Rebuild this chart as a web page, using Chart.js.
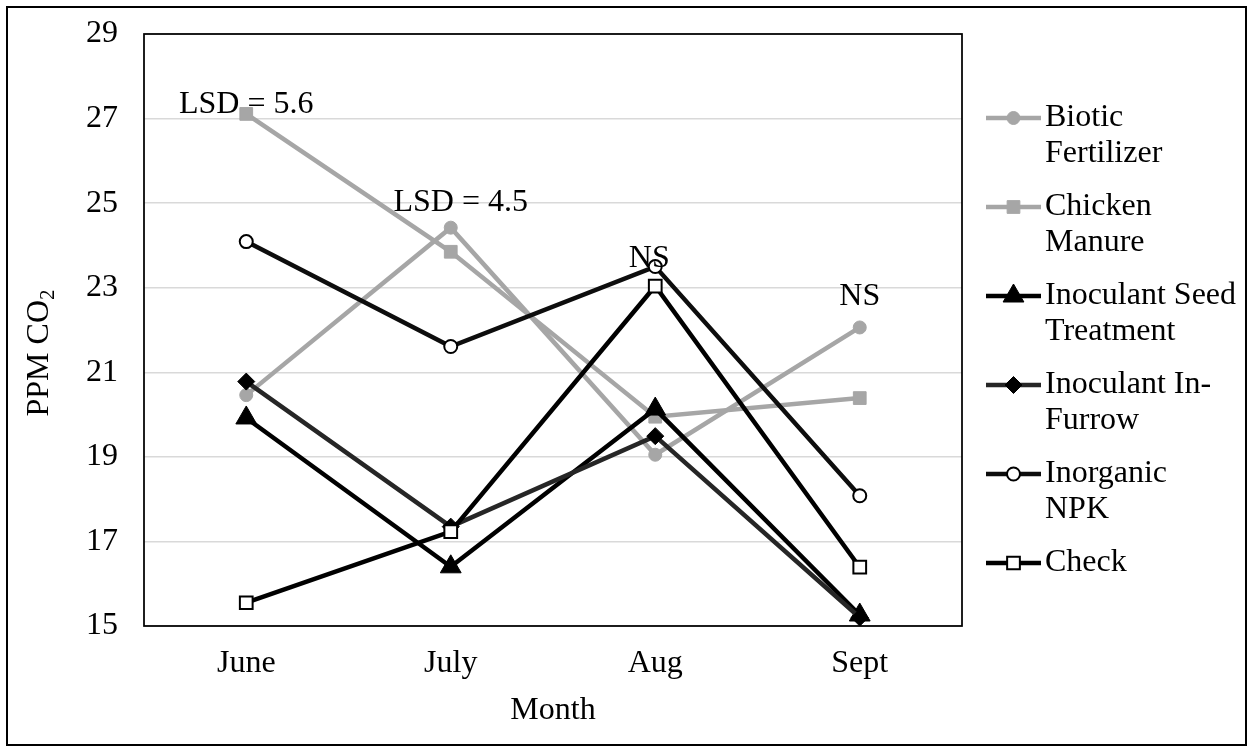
<!DOCTYPE html>
<html><head><meta charset="utf-8">
<script src="https://cdn.jsdelivr.net/npm/chart.js@4/dist/chart.umd.min.js"></script>
<style>html,body{margin:0;padding:0;background:#fff;}#wrap{width:1253px;height:751px;position:relative;}</style>
</head><body><div id="wrap"><canvas id="c" width="1253" height="751"></canvas></div>
<script>
const months = ['June', 'July', 'Aug', 'Sept'];
const seriesNames = [['Biotic', 'Fertilizer'], ['Chicken', 'Manure'], ['Inoculant Seed', 'Treatment'], ['Inoculant In-', 'Furrow'], ['Inorganic', 'NPK'], ['Check']];
const bioticFertilizer = [20.46, 24.42, 19.05, 22.06];
const chickenManure = [27.11, 23.85, 19.95, 20.39];
const inoculantSeedTreatment = [19.92, 16.40, 20.13, 15.26];
const inoculantInFurrow = [20.78, 17.35, 19.49, 15.20];
const inorganicNPK = [24.09, 21.61, 23.50, 18.08];
const checkSeries = [15.55, 17.23, 23.04, 16.39];
const yMin = 15, yMax = 29, yStep = 2;
const annotTexts = ['LSD = 5.6', 'LSD = 4.5', 'NS', 'NS'];
const annotMonths = ['June', 'July', 'Aug', 'Sept'];
const annotValues = [27.13, 24.81, 23.5, 22.59];
const annotShift = [0, 10, -6, 0];

const FONT = "'Liberation Serif', 'Times New Roman', serif";
const FS = 32;
const GREY = '#A6A6A6';

const styles = [
  {color: GREY, bg: GREY, style: 'circle', r: 6.5, bw: 1},
  {color: GREY, bg: GREY, style: 'rect', r: 9, bw: 1},
  {color: '#000000', bg: '#000000', style: 'triangle', r: 12, bw: 1},
  {color: '#262626', bg: '#000000', style: 'rectRot', r: 8.5, bw: 1},
  {color: '#0d0d0d', bg: '#ffffff', style: 'circle', r: 6.5, bw: 2},
  {color: '#000000', bg: '#ffffff', style: 'rect', r: 9, bw: 2}
];
const seriesData = [bioticFertilizer, chickenManure, inoculantSeedTreatment, inoculantInFurrow, inorganicNPK, checkSeries];

const datasets = seriesData.map((d, i) => ({
  label: seriesNames[i].join(' '),
  data: d,
  borderColor: styles[i].color,
  backgroundColor: styles[i].bg,
  pointBackgroundColor: styles[i].bg,
  pointBorderColor: styles[i].bg === '#ffffff' ? '#000' : styles[i].bg,
  pointBorderWidth: styles[i].bw,
  pointStyle: styles[i].style,
  pointRadius: styles[i].r,
  pointHoverRadius: styles[i].r,
  borderWidth: 4.5,
  tension: 0,
  clip: false,
  order: -i
}));

function drawMarker(ctx, s, x, y) {
  ctx.save();
  ctx.fillStyle = s.bg;
  ctx.strokeStyle = s.bg === '#ffffff' ? '#000' : s.bg;
  ctx.lineWidth = s.bw;
  ctx.beginPath();
  const r = s.r;
  if (s.style === 'circle') {
    ctx.arc(x, y, r, 0, Math.PI * 2);
  } else if (s.style === 'rect') {
    const h = Math.SQRT1_2 * r;
    ctx.rect(x - h, y - h, 2 * h, 2 * h);
  } else if (s.style === 'triangle') {
    ctx.moveTo(x, y - r);
    ctx.lineTo(x + Math.sin(2 * Math.PI / 3) * r, y + r / 2);
    ctx.lineTo(x - Math.sin(2 * Math.PI / 3) * r, y + r / 2);
    ctx.closePath();
  } else if (s.style === 'rectRot') {
    ctx.moveTo(x, y - r); ctx.lineTo(x + r, y); ctx.lineTo(x, y + r); ctx.lineTo(x - r, y); ctx.closePath();
  }
  ctx.fill();
  ctx.stroke();
  ctx.restore();
}

const decor = {
  id: 'decor',
  beforeDraw(chart) {
    const ctx = chart.ctx;
    ctx.save();
    ctx.fillStyle = '#fff';
    ctx.fillRect(0, 0, chart.width, chart.height);
    ctx.strokeStyle = '#000';
    ctx.lineWidth = 2;
    ctx.strokeRect(7, 7, 1239, 738);
    ctx.restore();
  },
  beforeDatasetsDraw(chart) {
    const ctx = chart.ctx, a = chart.chartArea;
    ctx.save();
    ctx.strokeStyle = '#000';
    ctx.lineWidth = 1.75;
    ctx.strokeRect(a.left, a.top, a.right - a.left, a.bottom - a.top);
    ctx.restore();
  },
  afterDatasetsDraw(chart) {
    const ctx = chart.ctx;
    const xs = chart.scales.x, ys = chart.scales.y;
    ctx.save();
    ctx.font = FS + 'px ' + FONT;
    ctx.fillStyle = '#000';
    ctx.textAlign = 'center';
    ctx.textBaseline = 'alphabetic';
    annotTexts.forEach((t, i) => {
      const x = xs.getPixelForValue(months.indexOf(annotMonths[i])) + annotShift[i];
      const y = ys.getPixelForValue(annotValues[i]);
      ctx.fillText(t, x, y);
    });
    // y-axis title with subscript
    ctx.translate(40, 353);
    ctx.rotate(-Math.PI / 2);
    ctx.textAlign = 'left';
    ctx.textBaseline = 'middle';
    const main = 'PPM CO';
    ctx.font = FS + 'px ' + FONT;
    const w1 = ctx.measureText(main).width;
    ctx.font = Math.round(FS * 0.65) + 'px ' + FONT;
    const w2 = ctx.measureText('2').width;
    const start = -(w1 + w2) / 2;
    ctx.font = FS + 'px ' + FONT;
    ctx.fillText(main, start, 0);
    ctx.font = Math.round(FS * 0.65) + 'px ' + FONT;
    ctx.fillText('2', start + w1, 8);
    ctx.restore();

    // legend
    ctx.save();
    const legX0 = 986, legX1 = 1041, textX = 1045, y0 = 118, gap = 89, lineGap = 36;
    chart.data.datasets.forEach((ds, i) => {
      const y = y0 + i * gap;
      ctx.strokeStyle = ds.borderColor;
      ctx.lineWidth = 4.5;
      ctx.beginPath();
      ctx.moveTo(legX0, y); ctx.lineTo(legX1, y); ctx.stroke();
      drawMarker(ctx, styles[i], (legX0 + legX1) / 2, y);
      ctx.fillStyle = '#000';
      ctx.font = FS + 'px ' + FONT;
      ctx.textAlign = 'left';
      ctx.textBaseline = 'middle';
      seriesNames[i].forEach((ln, k) => ctx.fillText(ln, textX, y + k * lineGap));
    });
    ctx.restore();
  }
};

new Chart(document.getElementById('c'), {
  type: 'line',
  data: {labels: months, datasets: datasets},
  options: {
    responsive: false,
    devicePixelRatio: 1,
    animation: false,
    layout: {padding: {left: 0, top: 34, right: 291, bottom: 0}},
    plugins: {legend: {display: false}, tooltip: {enabled: false}},
    scales: {
      x: {
        type: 'category',
        offset: true,
        grid: {display: false, drawTicks: false, offset: true},
        border: {display: false},
        ticks: {color: '#000', font: {family: FONT, size: FS}, padding: 18},
        title: {display: true, text: 'Month', color: '#000', font: {family: FONT, size: FS}, padding: {top: 0, bottom: 21}},
        afterFit(s) { s.height = 125; s.paddingLeft = 0; s.paddingRight = 0; }
      },
      y: {
        min: yMin, max: yMax,
        grid: {color: '#d9d9d9', lineWidth: 1.5, drawTicks: false},
        border: {display: false},
        ticks: {stepSize: yStep, color: '#000', font: {family: FONT, size: FS}, padding: 26},
        afterFit(s) { s.width = 144; s.paddingTop = 0; s.paddingBottom = 0; }
      }
    }
  },
  plugins: [decor]
});
</script>
</body></html>
